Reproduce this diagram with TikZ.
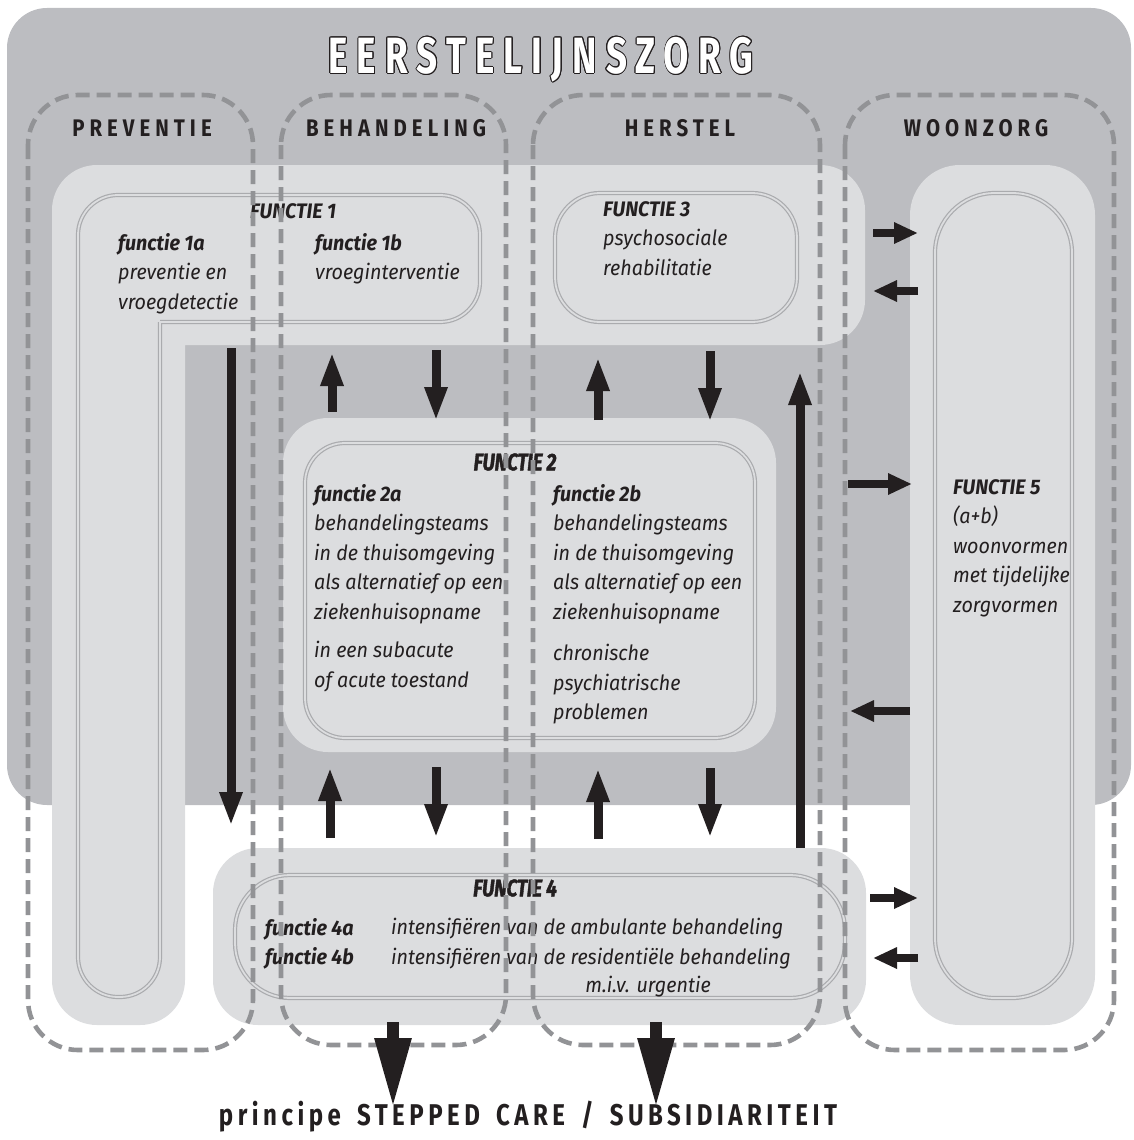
\documentclass[tikz,border=0pt]{standalone}
\usepackage{fontspec}
\usepackage{contour}
\usetikzlibrary{arrows.meta}
\setmainfont{Fira Sans}
\newfontfamily\titelfont[FakeStretch=0.72,LetterSpace=18]{Fira Sans}
\newfontfamily\kopfont[FakeStretch=0.85,LetterSpace=21]{Fira Sans}
\newfontfamily\tekstfont[FakeStretch=0.94]{Fira Sans}
\newfontfamily\functiefont[FakeStretch=0.8,FakeBold=1.5,LetterSpace=-1]{Fira Sans}
\newfontfamily\onderfont[FakeStretch=0.8,LetterSpace=15]{Fira Sans}
\definecolor{donker}{RGB}{188,189,193}
\definecolor{licht}{RGB}{220,221,223}
\definecolor{streep}{RGB}{146,147,150}
\definecolor{lijn}{RGB}{170,171,174}
\definecolor{inkt}{RGB}{35,31,32}
\contourlength{0.9pt}
\newcommand\wsp{\hspace{6pt}}
\tikzstyle{lichtvak}=[fill=licht,inner sep=0pt,outer sep=0pt,rounded corners=45pt]
\tikzstyle{omlijn}=[draw=lijn,line width=1.2pt,double=licht,double distance=1.8pt]
\tikzstyle{vak}=[omlijn,inner sep=0pt,outer sep=0pt]
\tikzstyle{kolom}=[draw=streep,line width=4.6pt,dash pattern=on 14pt off 7pt,rounded corners=50pt]
\tikzstyle{kop}=[font=\kopfont\bfseries\fontsize{24}{24}\selectfont,text=inkt]
\tikzstyle{tekst}=[font=\tekstfont\itshape\fontsize{21}{29.5}\selectfont,text=inkt,align=left,inner sep=0pt,anchor=north west]
\tikzstyle{functie}=[font=\functiefont\bfseries\itshape\fontsize{24}{24}\selectfont,text=inkt,inner sep=0pt]
\tikzstyle{pijlkop}=[>/.tip={Triangle[length=34pt,width=21pt]}]
\tikzstyle{pijl}=[line width=9pt,draw=inkt,pijlkop,->]
\tikzstyle{kortepijl}=[line width=8pt,draw=inkt,-{Triangle[length=24pt,width=20pt]}]
\tikzstyle{grotepijl}=[line width=12pt,draw=inkt,-{Triangle[length=70pt,width=34pt]}]
\begin{document}
\begin{tikzpicture}[x=1pt,y=-1pt]
	\useasboundingbox (0,0) rectangle (1133,1140);
	% eerstelijnszorg
	\fill[donker,rounded corners=40pt] (7,8) rectangle (1131,805);
	\node[font=\titelfont\bfseries\fontsize{51}{51}\selectfont,text=white] (titel) at (541,60) {\contour{inkt}{EERSTELIJNSZORG}};
	% lichte vlakken
	\fill[licht,rounded corners=45pt] (185,345) -- (185,1025) -- (52,1025) -- (52,165) -- (865,165) -- (865,345) -- (185,345);
	\node[lichtvak,minimum width=493pt,minimum height=334pt] (f2licht) at (529.5,585) {};
	\node[lichtvak,minimum width=653pt,minimum height=177pt] (f4licht) at (539.5,936.5) {};
	\node[lichtvak,rounded corners=50pt,minimum width=185pt,minimum height=860pt] (f5licht) at (1002.5,595) {};
	% functies
	\draw[omlijn,rounded corners=40pt] (160,322) -- (160,997) -- (78,997) -- (78,195) -- (480,195) -- (480,322) -- (160,322);
	\node[vak,rounded corners=45pt,minimum width=242pt,minimum height=129pt] (f3) at (676,257.5) {};
	\node[vak,rounded corners=40pt,minimum width=450pt,minimum height=295pt] (f2) at (530,590.5) {};
	\node[vak,rounded corners=55pt,minimum width=610pt,minimum height=123pt] (f4) at (540,936.5) {};
	\node[vak,rounded corners=60pt,minimum width=137pt,minimum height=805pt] (f5) at (1003.5,595.5) {};
	% teksten
	\node[tekst] (t1) at (250,203) {\textbf{FUNCTIE 1}};
	\node[tekst] (t1a) at (118,233) {\textbf{functie 1a}\\preventie en\\vroegdetectie};
	\node[tekst] (t1b) at (315,233) {\textbf{functie 1b}\\vroeginterventie};
	\node[tekst] (t3) at (603,201) {\textbf{FUNCTIE 3}\\psychosociale\\rehabilitatie};
	\node[functie] (t2) at (515,462) {FUNCTIE 2};
	\node[tekst] (t2a) at (314,484) {\textbf{functie 2a}\\behandelingsteams\\in de thuisomgeving\\als alternatief op een\\ziekenhuisopname\\[9pt]in een subacute\\of acute toestand};
	\node[tekst] (t2b) at (553,484) {\textbf{functie 2b}\\behandelingsteams\\in de thuisomgeving\\als alternatief op een\\ziekenhuisopname\\[12pt]chronische\\psychiatrische\\problemen};
	\node[tekst] (t5) at (953,479) {\textbf{FUNCTIE 5}\\(a+b)\\woonvormen\\met tijdelijke\\zorgvormen};
	\node[functie] (t4) at (515,888) {FUNCTIE 4};
	\node[tekst] (t4a) at (265,918) {\textbf{functie 4a}\\\textbf{functie 4b}};
	\node[tekst] (t4b) at (391,918) {intensifiëren van de ambulante behandeling\\intensifiëren van de residentiële behandeling};
	\node[tekst,anchor=north] (t4c) at (648,976) {m.i.v. urgentie};
	% kolommen
	\draw[kolom] (28,95) rectangle (253,1050);
	\draw[kolom] (281,95) rectangle (506,1045);
	\draw[kolom] (533,95) rectangle (820,1045);
	\draw[kolom] (845,95) rectangle (1114,1050);
	\node[kop] (preventie) at (142,128) {PREVENTIE};
	\node[kop] (behandeling) at (396,128) {BEHANDELING};
	\node[kop] (herstel) at (680,128) {HERSTEL};
	\node[kop] (woonzorg) at (976,128) {WOONZORG};
	% pijlen
	\foreach \x/\ya/\yb [count=\i] in {231/348/826, 332/412/352, 436/350/421, 598/420/357, 710/351/422, 800/848/371, 330/838/767, 436/767/838, 598/839/768, 710/768/838}{
		\coordinate (v\i-a) at (\x,\ya);
		\coordinate (v\i-b) at (\x,\yb);
		\draw[pijl] (v\i-a) -- (v\i-b);
	}
	\foreach \xa/\xb/\y [count=\i] in {873/918/233, 918/873/291, 848/912/484, 910/850/711, 870/918/898, 918/873/958}{
		\coordinate (h\i-a) at (\xa,\y);
		\coordinate (h\i-b) at (\xb,\y);
		\draw[kortepijl] (h\i-a) -- (h\i-b);
	}
	\foreach \x [count=\i] in {393,656}{
		\coordinate (g\i-a) at (\x,1022);
		\coordinate (g\i-b) at (\x,1108);
		\draw[grotepijl] (g\i-a) -- (g\i-b);
	}
	\node[font=\onderfont\bfseries\fontsize{30}{30}\selectfont,text=inkt] (principe) at (528,1117) {principe \wsp STEPPED \wsp CARE \wsp / \wsp SUBSIDIARITEIT};
\end{tikzpicture}
\end{document}
